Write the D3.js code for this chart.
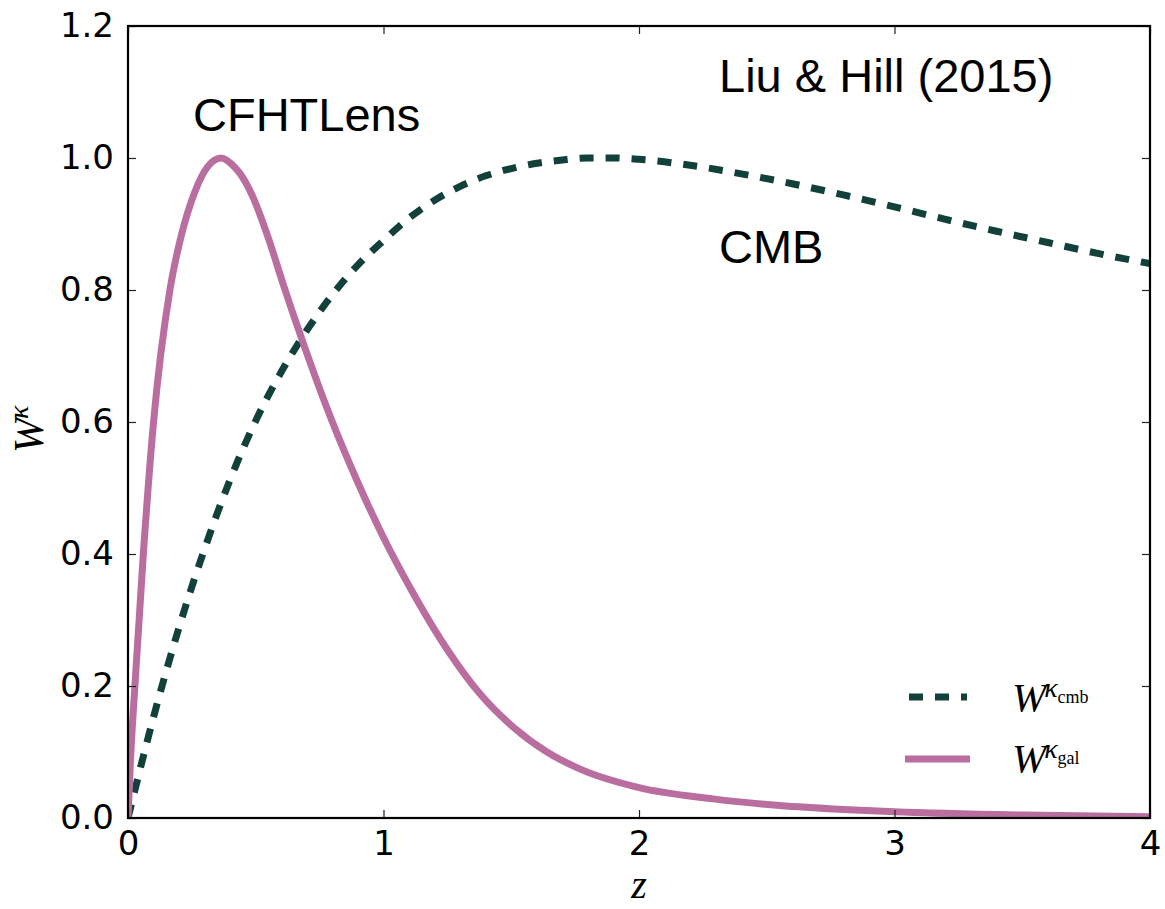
<!DOCTYPE html>
<html>
<head>
<meta charset="utf-8">
<script src="https://cdn.jsdelivr.net/npm/d3@7"></script>
<style>
  html, body { margin: 0; padding: 0; background: #fff; }
  svg { display: block; }
</style>
</head>
<body>
<svg id="chart" width="1165" height="909"></svg>
<script>
// Lensing kernels W^kappa(z), each normalised to a peak of 1.
const zGal = [0, 0.01, 0.027, 0.06, 0.10, 0.164, 0.207, 0.26, 0.31, 0.364, 0.42, 0.45, 0.49, 0.55, 0.608, 0.68, 0.80, 0.90, 1.00, 1.12, 1.25, 1.38, 1.51, 1.64, 1.77, 2.0, 2.29, 2.55, 2.8, 3.0, 3.5, 4.0];
const wGal = [0, 0.09, 0.2, 0.4, 0.6, 0.8, 0.88, 0.947, 0.986, 1.0, 0.985, 0.97, 0.94, 0.878, 0.808, 0.726, 0.6, 0.508, 0.425, 0.338, 0.255, 0.187, 0.137, 0.100, 0.074, 0.046, 0.029, 0.019, 0.013, 0.0095, 0.0045, 0.002];

const zCmb = [0, 0.1, 0.2, 0.3, 0.4, 0.5, 0.6, 0.7, 0.8, 0.9, 1.0, 1.1, 1.2, 1.3, 1.4, 1.5, 1.6, 1.7, 1.8, 1.9, 2.0, 2.2, 2.4, 2.6, 2.8, 3.0, 3.2, 3.4, 3.6, 3.8, 4.0];
const wCmb = [0, 0.153, 0.289, 0.408, 0.513, 0.602, 0.676, 0.739, 0.793, 0.838, 0.875, 0.909, 0.936, 0.957, 0.973, 0.984, 0.992, 0.997, 1.0, 1.0, 0.998, 0.989, 0.976, 0.961, 0.944, 0.926, 0.907, 0.889, 0.872, 0.855, 0.84];

const xTicks = [0, 1, 2, 3, 4];
const yTicks = [0.0, 0.2, 0.4, 0.6, 0.8, 1.0, 1.2];

const colGal = "#ba6e9f";
const colCmb = "#12403a";

const svg = d3.select("#chart");
const m = { left: 128, right: 1150, top: 26, bottom: 818 };

const x = d3.scaleLinear().domain([0, 4]).range([m.left, m.right]);
const y = d3.scaleLinear().domain([0, 1.2]).range([m.bottom, m.top]);

svg.append("defs").append("clipPath").attr("id", "plotclip")
  .append("rect")
  .attr("x", m.left).attr("y", m.top)
  .attr("width", m.right - m.left).attr("height", m.bottom - m.top);

const line = d3.line()
  .x(d => x(d[0]))
  .y(d => y(d[1]))
  .curve(d3.curveMonotoneX);

const plot = svg.append("g").attr("clip-path", "url(#plotclip)");

plot.append("path")
  .datum(zCmb.map((z, i) => [z, wCmb[i]]))
  .attr("d", line)
  .attr("fill", "none")
  .attr("stroke", colCmb)
  .attr("stroke-width", 7)
  .attr("stroke-dasharray", "14,12");

plot.append("path")
  .datum(zGal.map((z, i) => [z, wGal[i]]))
  .attr("d", line)
  .attr("fill", "none")
  .attr("stroke", colGal)
  .attr("stroke-width", 7);

// Axes: ticks point inward on all four sides
const tickLen = 8;
const fmtY = d3.format(".1f");

svg.append("g").attr("transform", `translate(0,${m.bottom})`)
  .call(d3.axisBottom(x).tickValues(xTicks).tickSize(-tickLen).tickPadding(13).tickFormat(d3.format("d")))
  .call(g => g.select(".domain").remove());
svg.append("g").attr("transform", `translate(0,${m.top})`)
  .call(d3.axisTop(x).tickValues(xTicks).tickSize(-tickLen).tickFormat(""))
  .call(g => g.select(".domain").remove());
svg.append("g").attr("transform", `translate(${m.left},0)`)
  .call(d3.axisLeft(y).tickValues(yTicks).tickSize(-tickLen).tickPadding(14).tickFormat(fmtY))
  .call(g => g.select(".domain").remove());
svg.append("g").attr("transform", `translate(${m.right},0)`)
  .call(d3.axisRight(y).tickValues(yTicks).tickSize(-tickLen).tickFormat(""))
  .call(g => g.select(".domain").remove());

svg.selectAll(".tick line").attr("stroke", "#222").attr("stroke-width", 1.2);
svg.selectAll(".tick text")
  .attr("font-family", "DejaVu Sans, sans-serif")
  .attr("font-size", 34)
  .attr("fill", "#000");

// Frame
svg.append("rect")
  .attr("x", m.left).attr("y", m.top)
  .attr("width", m.right - m.left).attr("height", m.bottom - m.top)
  .attr("fill", "none").attr("stroke", "#000").attr("stroke-width", 2.2);

// Axis titles
const serif = "Liberation Serif, Times New Roman, serif";
svg.append("text")
  .attr("x", x(2)).attr("y", 898)
  .attr("text-anchor", "middle")
  .attr("font-family", serif).attr("font-style", "italic").attr("font-size", 40)
  .text("z");

const yl = svg.append("text")
  .attr("transform", "translate(43,453) rotate(-90)")
  .attr("font-family", serif).attr("font-size", 42);
yl.append("tspan").attr("font-style", "italic").text("W");
yl.append("tspan").attr("font-style", "italic").attr("font-size", 28).attr("dy", -15).attr("dx", -1).text("κ");

// Annotations
const sans = "Liberation Sans, Arial, sans-serif";
const notes = [
  { t: "Liu & Hill (2015)", x: 719, y: 92 },
  { t: "CFHTLens", x: 193, y: 131 },
  { t: "CMB", x: 719, y: 263 }
];
svg.selectAll("text.note").data(notes).enter().append("text")
  .attr("class", "note")
  .attr("x", d => d.x).attr("y", d => d.y)
  .attr("font-family", sans).attr("font-size", 47)
  .attr("fill", "#000")
  .text(d => d.t);

// Legend
const legendItems = [
  { sub: "cmb", color: colCmb, dash: "14,12", ly: 697, ty: 711, x0: 909, x1: 967 },
  { sub: "gal", color: colGal, dash: null, ly: 759, ty: 772, x0: 905, x1: 970 }
];
const lg = svg.append("g");
legendItems.forEach(d => {
  lg.append("line")
    .attr("x1", d.x0).attr("x2", d.x1).attr("y1", d.ly).attr("y2", d.ly)
    .attr("stroke", d.color).attr("stroke-width", 7)
    .attr("stroke-dasharray", d.dash);
  const t = lg.append("text")
    .attr("x", 1012).attr("y", d.ty)
    .attr("font-family", serif).attr("font-size", 41);
  t.append("tspan").attr("font-style", "italic").text("W");
  t.append("tspan").attr("font-style", "italic").attr("font-size", 28).attr("dy", -14).attr("dx", -2).text("κ");
  t.append("tspan").attr("font-size", 18).attr("dy", 6).text(d.sub);
});
</script>
</body>
</html>
